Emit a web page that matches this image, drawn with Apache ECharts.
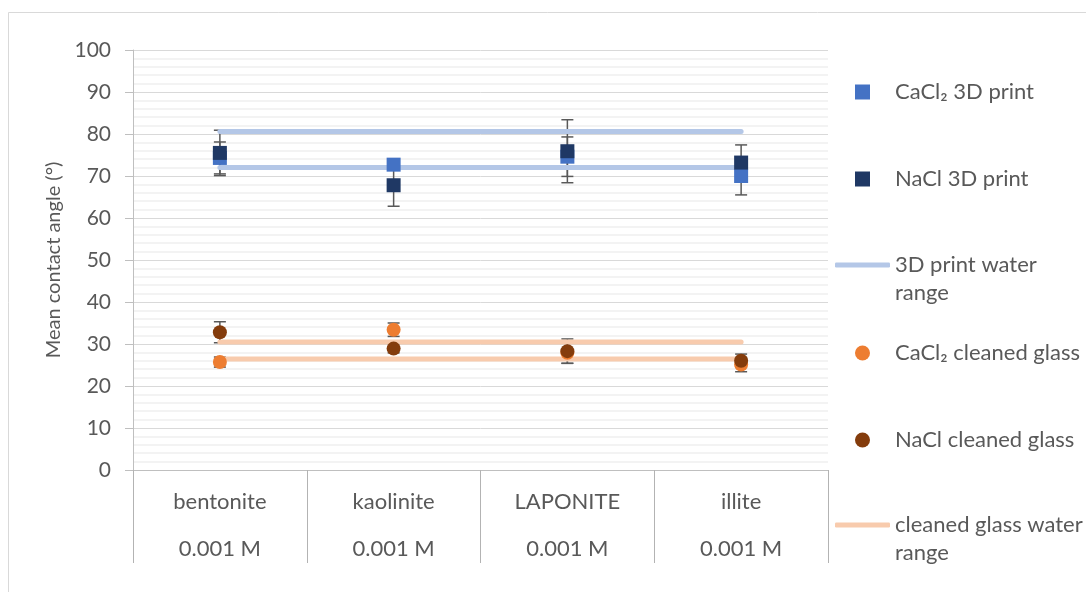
<!DOCTYPE html>
<html>
<head>
<meta charset="utf-8">
<script src="https://cdn.jsdelivr.net/npm/echarts@6/dist/echarts.min.js"></script>
<style>
  html, body { margin: 0; padding: 0; background: #fff; }
  #chart { width: 1086px; height: 592px; }
</style>
</head>
<body>
<div id="chart"></div>
<script>
const clays = ["bentonite", "kaolinite", "LAPONITE", "illite"];
const concentrations = ["0.001 M", "0.001 M", "0.001 M", "0.001 M"];

const cacl2Print = [74.3, 72.7, 74.6, 70.0];
const cacl2PrintErr = [3.8, 0.8, 4.7, 4.5];
const naclPrint = [75.5, 67.8, 75.9, 73.2];
const naclPrintErr = [5.4, 5.0, 7.5, 4.2];
const printWaterHigh = [80.6, 80.6, 80.6, 80.6];
const printWaterLow = [72.0, 72.0, 72.0, 72.0];

const cacl2Glass = [25.7, 33.4, 27.9, 25.1];
const cacl2GlassErr = [1.2, 1.6, 2.5, 1.7];
const naclGlass = [32.8, 28.9, 28.3, 26.0];
const naclGlassErr = [2.5, 1.0, 2.9, 1.6];
const glassWaterHigh = [30.5, 30.5, 30.5, 30.5];
const glassWaterLow = [26.4, 26.4, 26.4, 26.4];

const FONT = "Lato";
const TEXT = "#595959";

function errorBars(id, values, errs) {
  return {
    id: id,
    type: "custom",
    z: 2,
    silent: true,
    data: values.map((v, i) => [i, v - errs[i], v + errs[i]]),
    renderItem: (params, api) => {
      const lo = api.coord([api.value(0), api.value(1)]);
      const hi = api.coord([api.value(0), api.value(2)]);
      const w = 6;
      const style = { stroke: TEXT, lineWidth: 1.5 };
      return {
        type: "group",
        children: [
          { type: "line", shape: { x1: hi[0], y1: hi[1], x2: lo[0], y2: lo[1] }, style: style },
          { type: "line", shape: { x1: hi[0] - w, y1: hi[1], x2: hi[0] + w, y2: hi[1] }, style: style },
          { type: "line", shape: { x1: lo[0] - w, y1: lo[1], x2: lo[0] + w, y2: lo[1] }, style: style },
        ],
      };
    },
  };
}

function points(name, values, symbol, color) {
  return {
    name: name,
    type: "scatter",
    z: 4,
    symbol: symbol,
    symbolSize: 14,
    itemStyle: { color: color, opacity: 1 },
    data: values,
  };
}

function range(name, values, color) {
  return {
    name: name,
    type: "line",
    z: 3,
    symbol: "none",
    silent: true,
    lineStyle: { color: color, width: 5, cap: "round" },
    itemStyle: { color: color },
    data: values,
  };
}

// one legend per entry so each row can sit where the reference puts it
function legendSymbol(name, icon, centerY) {
  return {
    data: [{ name: name, icon: icon }],
    left: 855,
    top: centerY - 14,
    padding: 0,
    itemWidth: 15,
    itemHeight: 15,
    selectedMode: false,
    textStyle: { color: TEXT, fontSize: 22, fontFamily: FONT, lineHeight: 28, padding: [0, 0, 0, 20] },
  };
}

function legendLine(name, centerY) {
  return {
    data: [{ name: name, icon: "roundRect" }],
    left: 835,
    top: centerY - 42,
    padding: 0,
    itemWidth: 55,
    itemHeight: 5,
    selectedMode: false,
    formatter: (n) => "\n" + n.replace(/ (\S+)$/, "\n$1"),
    textStyle: { color: TEXT, fontSize: 22, fontFamily: FONT, lineHeight: 28 },
  };
}

const nameCaPrint = "CaCl\u2082 3D print";
const nameNaPrint = "NaCl 3D print";
const namePrintRange = "3D print water range";
const nameCaGlass = "CaCl\u2082 cleaned glass";
const nameNaGlass = "NaCl cleaned glass";
const nameGlassRange = "cleaned glass water range";

const chart = echarts.init(document.getElementById("chart"));
chart.setOption({
  animation: false,
  backgroundColor: "#fff",
  textStyle: { fontFamily: FONT },
  graphic: [
    {
      type: "rect",
      shape: { x: 8.5, y: 12.5, width: 1200, height: 700 },
      style: { fill: "none", stroke: "#d9d9d9", lineWidth: 1 },
      silent: true,
    },
  ],
  grid: { left: 133, right: 258, top: 50, bottom: 122 },
  legend: [
    legendSymbol(nameCaPrint, "rect", 92),
    legendSymbol(nameNaPrint, "rect", 179),
    legendLine(namePrintRange, 265),
    legendSymbol(nameCaGlass, "circle", 353),
    legendSymbol(nameNaGlass, "circle", 440),
    legendLine(nameGlassRange, 525),
  ],
  xAxis: {
    type: "category",
    data: clays.map((c, i) => c + "\n\n" + concentrations[i]),
    axisLine: { lineStyle: { color: "#bfbfbf", width: 1 } },
    axisTick: { show: true, interval: 0, length: 93, lineStyle: { color: "#b3b3b3" } },
    axisLabel: { interval: 0, margin: 20, color: TEXT, fontSize: 22, fontFamily: FONT, lineHeight: 23.5 },
    splitLine: { show: false },
  },
  yAxis: {
    type: "value",
    min: 0,
    max: 100,
    interval: 10,
    name: "Mean contact angle (\u00b0)",
    nameLocation: "middle",
    nameGap: 68,
    nameRotate: 90,
    nameTextStyle: { color: TEXT, fontSize: 20, fontFamily: FONT },
    axisLine: { show: true, lineStyle: { color: "#bfbfbf", width: 1 } },
    axisTick: { show: true, length: 8, lineStyle: { color: "#bfbfbf" } },
    axisLabel: { margin: 22, color: TEXT, fontSize: 21, fontFamily: FONT },
    splitLine: { lineStyle: { color: "#d9d9d9", width: 1 } },
    minorTick: { show: false, splitNumber: 5 },
    minorSplitLine: { show: true, lineStyle: { color: "#efefef", width: 1.5 } },
  },
  series: [
    errorBars("errCaPrint", cacl2Print, cacl2PrintErr),
    errorBars("errNaPrint", naclPrint, naclPrintErr),
    errorBars("errCaGlass", cacl2Glass, cacl2GlassErr),
    errorBars("errNaGlass", naclGlass, naclGlassErr),
    range(namePrintRange, printWaterHigh, "#b4c7e7"),
    range(namePrintRange, printWaterLow, "#b4c7e7"),
    range(nameGlassRange, glassWaterHigh, "#f8cbad"),
    range(nameGlassRange, glassWaterLow, "#f8cbad"),
    points(nameCaPrint, cacl2Print, "rect", "#4472c4"),
    points(nameNaPrint, naclPrint, "rect", "#1f3864"),
    points(nameCaGlass, cacl2Glass, "circle", "#ed7d31"),
    points(nameNaGlass, naclGlass, "circle", "#843c0c"),
  ],
});
</script>
</body>
</html>
